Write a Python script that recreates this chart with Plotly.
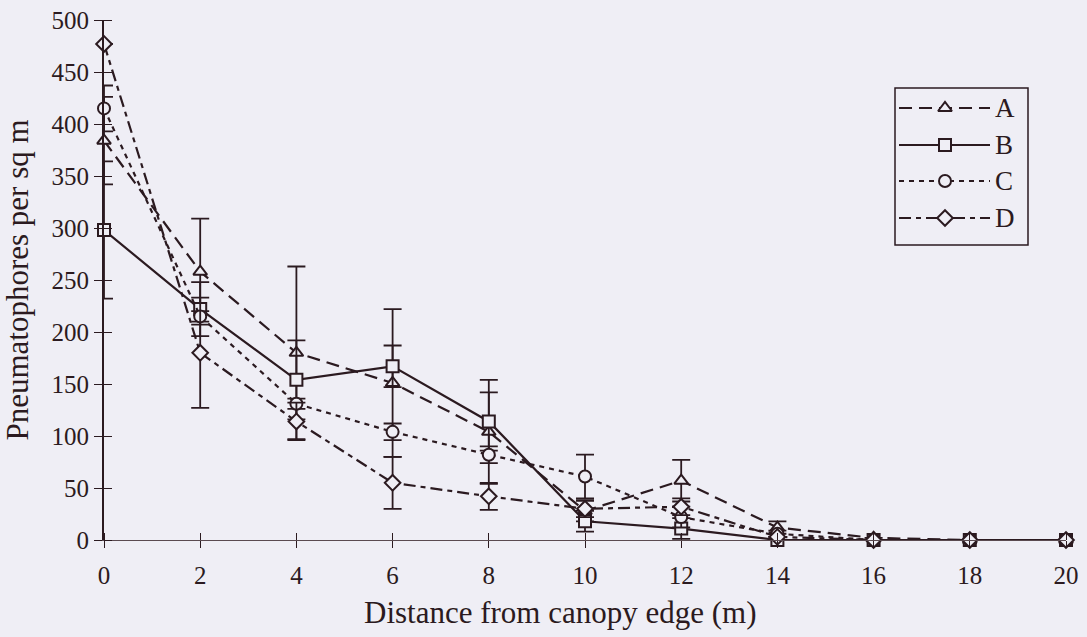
import plotly.graph_objects as go

distance = [0, 2, 4, 6, 8, 10, 12, 14, 16, 18, 20]
series_names = ["A", "B", "C", "D"]
A_vals = [384, 258, 180, 151, 104, 28, 57, 12, 2, 0, 0]
B_vals = [298, 222, 154, 167, 114, 18, 11, 0, 0, 0, 0]
C_vals = [415, 215, 131, 104, 82, 61, 22, 6, 0, 0, 0]
D_vals = [477, 180, 114, 55, 42, 30, 32, 3, 0, 0, 0]
A_err = [42, 51, 83, 71, 50, 10, 20, 6, 0, 0, 0]
B_err = [66, 26, 38, 20, 28, 10, 10, 0, 0, 0, 0]
C_err = [22, 5, 5, 8, 8, 21, 10, 3, 0, 0, 0]
D_err = [0, 53, 18, 25, 13, 8, 8, 0, 0, 0, 0]
y_ticks = [0, 50, 100, 150, 200, 250, 300, 350, 400, 450, 500]
x_ticks = [0, 2, 4, 6, 8, 10, 12, 14, 16, 18, 20]
x_title = "Distance from canopy edge (m)"
y_title = "Pneumatophores per sq m"

ink = "#2b1a20"
bg = "#efeef5"
font_family = "Liberation Serif, Times New Roman, serif"

styles = {
    "A": dict(symbol="triangle-up", dash="13px,7px"),
    "B": dict(symbol="square", dash="solid"),
    "C": dict(symbol="circle", dash="5px,5px"),
    "D": dict(symbol="diamond", dash="12px,5px,5px,5px"),
}
values = {"A": A_vals, "B": B_vals, "C": C_vals, "D": D_vals}
errors = {"A": A_err, "B": B_err, "C": C_err, "D": D_err}

fig = go.Figure()
for name in series_names:
    st = styles[name]
    fig.add_trace(go.Scatter(
        x=distance, y=values[name], name=name, mode="lines+markers",
        line=dict(color=ink, width=2.2, dash=st["dash"]),
        marker=dict(symbol=st["symbol"], size=12, color=bg,
                    line=dict(color=ink, width=2)),
        error_y=dict(type="data", array=errors[name], visible=True,
                     color=ink, thickness=1.8, width=9),
        cliponaxis=False, showlegend=False,
    ))

# Custom legend drawn on an overlay axis measured in page pixels
leg_left, leg_right, leg_top, leg_bottom = 895, 1028, 88, 245
leg_rows = [108, 145, 181, 218]
line_x0, line_x1, marker_x, label_x = 899, 990, 945, 993
for name, row in zip(series_names, leg_rows):
    st = styles[name]
    fig.add_trace(go.Scatter(
        x=[line_x0, line_x1], y=[row, row], mode="lines", xaxis="x2", yaxis="y2",
        line=dict(color=ink, width=2.2, dash=st["dash"]),
        showlegend=False, hoverinfo="skip", cliponaxis=False,
    ))
    fig.add_trace(go.Scatter(
        x=[marker_x], y=[row], mode="markers", xaxis="x2", yaxis="y2",
        marker=dict(symbol=st["symbol"], size=12, color=bg, line=dict(color=ink, width=2)),
        showlegend=False, hoverinfo="skip", cliponaxis=False,
    ))
    fig.add_annotation(x=label_x, y=row, xref="x2", yref="y2", text=name,
                       showarrow=False, xanchor="left", yanchor="middle",
                       font=dict(family=font_family, size=27, color=ink))
fig.add_shape(type="rect", xref="x2", yref="y2", x0=leg_left, x1=leg_right,
              y0=leg_top, y1=leg_bottom, line=dict(color=ink, width=1.5),
              fillcolor="rgba(0,0,0,0)", layer="below")

# x-axis title placed like the original (slightly left of centre)
fig.add_annotation(x=0.475, y=-0.1385, xref="paper", yref="paper", text=x_title,
                   showarrow=False, xanchor="center", yanchor="middle",
                   font=dict(family=font_family, size=31, color=ink))

fig.update_layout(
    width=1087, height=637,
    margin=dict(l=104, r=21, t=20, b=97),
    paper_bgcolor=bg, plot_bgcolor=bg,
    font=dict(family=font_family, size=25, color=ink),
    showlegend=False,
    xaxis=dict(range=[0, 20], tickvals=x_ticks, ticktext=[str(v) for v in x_ticks],
               automargin=False, ticklabelstandoff=6,
               showgrid=False, zeroline=False, showline=True, linecolor="#5a4a50",
               linewidth=1.3, ticks="outside", ticklen=7, tickcolor=ink, tickwidth=1.3,
               minor=dict(tickvals=x_ticks, ticks="inside", ticklen=7, tickcolor=ink, tickwidth=1.3),
               tickfont=dict(family=font_family, size=25, color=ink)),
    yaxis=dict(range=[0, 500], tickvals=y_ticks, ticktext=[str(v) for v in y_ticks],
               automargin=False,
               showgrid=False, zeroline=False, showline=True, linecolor=ink,
               linewidth=2, ticks="outside", ticklen=8, tickcolor=ink, tickwidth=1.3,
               minor=dict(tickvals=y_ticks, ticks="inside", ticklen=8, tickcolor=ink, tickwidth=1.3),
               title=dict(text=y_title,
                          font=dict(family=font_family, size=31, color=ink)),
               tickfont=dict(family=font_family, size=25, color=ink)),
    xaxis2=dict(overlaying="x", range=[104, 1066], visible=False, domain=[0, 1]),
    yaxis2=dict(overlaying="y", range=[540, 20], visible=False, domain=[0, 1]),
)

fig.write_html(
    "out.html",
    config={"displayModeBar": False},
    post_script="document.body.style.margin='0';document.body.style.background='#efeef5';",
)
